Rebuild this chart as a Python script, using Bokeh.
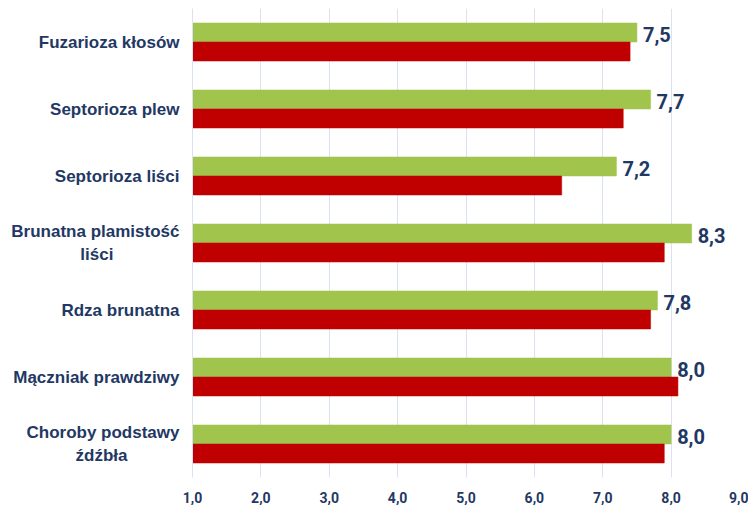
from bokeh.plotting import figure
from bokeh.models import FactorRange, Range1d, FixedTicker, ColumnDataSource, LabelSet
from bokeh.core.properties import value
from bokeh.transform import dodge
from bokeh.embed import file_html
from bokeh.resources import INLINE

NBSP = "\u00a0"
categories = [
    "Fuzarioza kłosów",
    "Septorioza plew",
    "Septorioza liści",
    "Brunatna plamistość\nliści" + NBSP * 14,
    "Rdza brunatna",
    "Mączniak prawdziwy",
    "Choroby podstawy\nźdźbła" + NBSP * 11,
]
green_values = [7.5, 7.7, 7.2, 8.3, 7.8, 8.0, 8.0]
red_values = [7.4, 7.3, 6.4, 7.9, 7.7, 8.1, 7.9]
x_ticks = [1, 2, 3, 4, 5, 6, 7, 8, 9]
x_tick_labels = ["1,0", "2,0", "3,0", "4,0", "5,0", "6,0", "7,0", "8,0", "9,0"]
axis_min = 1.0
axis_max = 9.0

NAVY = "#1F3864"
GREEN = "#A0C44C"
RED = "#C00000"
GRID = "#D9E1F2"
NARROW = "'Liberation Sans Narrow', 'Arial Narrow', Roboto, sans-serif"

src = ColumnDataSource(dict(
    cat=categories,
    green=green_values,
    red=red_values,
    base=[axis_min] * len(categories),
    glabel=[f"{v:.1f}".replace(".", ",") for v in green_values],
))

p = figure(
    width=748, height=505,
    y_range=FactorRange(factors=list(reversed(categories))),
    x_range=Range1d(axis_min, axis_max),
    output_backend="svg", toolbar_location=None,
    min_border_top=8, min_border_left=192, min_border_right=9, min_border_bottom=28,
)
p.outline_line_color = None
p.background_fill_color = "white"

bh = 0.284
p.hbar(y=dodge("cat", bh / 2, range=p.y_range), left="base", right="green", height=bh,
       source=src, fill_color=GREEN, line_color=GREEN, line_width=0.5)
p.hbar(y=dodge("cat", -bh / 2, range=p.y_range), left="base", right="red", height=bh,
       source=src, fill_color=RED, line_color=RED, line_width=0.5)

labels = LabelSet(x="green", y=dodge("cat", bh / 2 - 0.035, range=p.y_range), text="glabel",
                  source=src, x_offset=6, text_baseline="middle", text_align="left",
                  text_font=value(NARROW), text_font_style="bold",
                  text_font_size="20px", text_color=NAVY)
p.add_layout(labels)

p.xaxis.ticker = FixedTicker(ticks=x_ticks)
p.xaxis.major_label_overrides = {t: l for t, l in zip(x_ticks, x_tick_labels)}
p.xaxis.axis_line_color = None
p.xaxis.major_tick_line_color = None
p.xaxis.minor_tick_line_color = None
p.xaxis.major_tick_out = 0
p.xaxis.major_label_standoff = 14
p.xaxis.major_label_text_font = NARROW
p.xaxis.major_label_text_font_style = "bold"
p.xaxis.major_label_text_font_size = "14px"
p.xaxis.major_label_text_color = NAVY

p.yaxis.axis_line_color = GRID
p.yaxis.major_tick_line_color = None
p.yaxis.minor_tick_line_color = None
p.yaxis.major_tick_out = 0
p.yaxis.major_label_standoff = 13
p.yaxis.major_label_text_font = "Liberation Sans"
p.yaxis.major_label_text_font_style = "bold"
p.yaxis.major_label_text_font_size = "17px"
p.yaxis.major_label_text_color = NAVY

p.xgrid.ticker = FixedTicker(ticks=x_ticks)
p.xgrid.grid_line_color = GRID
p.xgrid.grid_line_width = 1
p.ygrid.grid_line_color = None

open("out.html", "w").write(file_html(p, INLINE))
